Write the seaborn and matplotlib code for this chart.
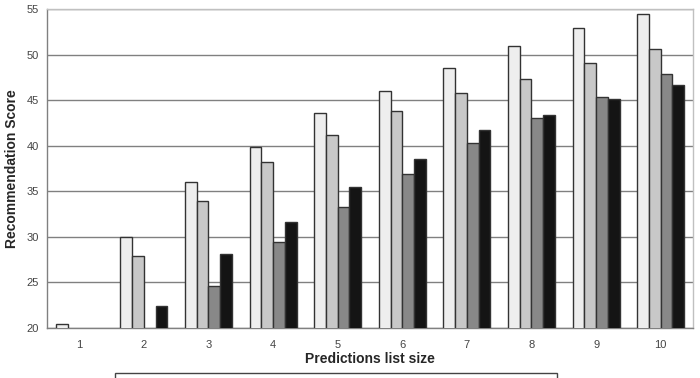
import numpy as np
import pandas as pd
import matplotlib.pyplot as plt
from matplotlib.ticker import FixedLocator
import seaborn as sns

# Data
list_sizes = ['1', '2', '3', '4', '5', '6', '7', '8', '9', '10']
series_names = ['Series 1', 'Series 2', 'Series 3', 'Series 4']
s1 = [20.4, 30.0, 36.05, 39.9, 43.55, 46.05, 48.55, 50.95, 52.9, 54.5]
s2 = [np.nan, 27.9, 33.9, 38.25, 41.2, 43.85, 45.75, 47.35, 49.1, 50.6]
s3 = [np.nan, np.nan, 24.6, 29.4, 33.3, 36.9, 40.25, 43.05, 45.4, 47.85]
s4 = [np.nan, 22.4, 28.1, 31.6, 35.45, 38.55, 41.7, 43.35, 45.1, 46.65]
colors = ['#eeeeee', '#c8c8c8', '#888888', '#141414']

rows = []
for name, vals in zip(series_names, [s1, s2, s3, s4]):
    for size, v in zip(list_sizes, vals):
        rows.append({'size': size, 'series': name, 'score': v})
df = pd.DataFrame(rows).dropna()

sns.set_style('white')
plt.rcParams['font.family'] = ['Liberation Sans', 'DejaVu Sans']

fig = plt.figure(figsize=(7, 3.78), dpi=100)
ax = fig.add_axes([0.0671, 0.1323, 0.9229, 0.8437])

sns.barplot(data=df, x='size', y='score', hue='series', order=list_sizes,
            hue_order=series_names, palette=colors, width=0.727, gap=0,
            edgecolor='#333333', linewidth=1, saturation=1, errorbar=None,
            legend=False, ax=ax, zorder=3)

ax.set_ylim(20, 55)
ax.set_xlim(-0.5, 9.5)
ax.set_yticks(range(20, 56, 5))
ax.grid(axis='y', color='#808080', linewidth=1, zorder=0)
ax.set_axisbelow(True)

# x ticks sit between categories
ax.tick_params(axis='x', which='major', length=0, pad=9)
ax.xaxis.set_minor_locator(FixedLocator(np.arange(-0.5, 10, 1)))
ax.tick_params(axis='x', which='minor', length=4, color='#808080', direction='out')
ax.tick_params(axis='y', length=4, color='#808080', direction='out', pad=2)
ax.tick_params(labelsize=8, labelcolor='#444444')

for side in ['left', 'bottom']:
    ax.spines[side].set_color('#808080')
for side in ['top', 'right']:
    ax.spines[side].set_color('#c0c0c0')
for sp in ax.spines.values():
    sp.set_visible(True)
    sp.set_linewidth(1)

ax.set_xlabel('Predictions list size', fontsize=10, fontweight='bold', labelpad=1)
ax.set_ylabel('Recommendation Score', fontsize=10, fontweight='bold', labelpad=5)

# legend frame, cut off by the bottom of the image (only its top edge shows)
box = plt.Rectangle((115 / 700, -0.05), 442 / 700, 5 / 378 + 0.05,
                    transform=fig.transFigure, facecolor='white',
                    edgecolor='#444444', linewidth=1)
fig.patches.append(box)

fig.savefig('out.png', dpi=100)
